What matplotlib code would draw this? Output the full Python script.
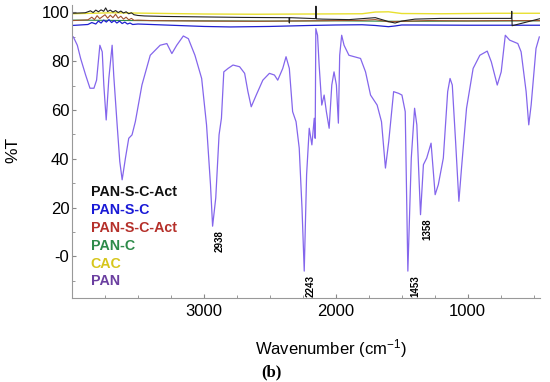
import numpy as np
import matplotlib
matplotlib.use("Agg")
import matplotlib.pyplot as plt

plt.rcParams['font.family'] = ['Liberation Sans', 'DejaVu Sans']
plt.rcParams['mathtext.default'] = 'regular'

# PAN spectrum (purple)
pan_x = [3990, 3960, 3935, 3897, 3864, 3834, 3814, 3789, 3771, 3759, 3741, 3721, 3696, 3684, 3658,
         3638, 3620, 3595, 3570, 3545, 3520, 3470, 3407, 3332, 3281, 3243, 3206, 3156, 3118, 3068,
         3017, 2980, 2950, 2934, 2910, 2885, 2867, 2849, 2817, 2779, 2729, 2691, 2666, 2641, 2603,
         2553, 2503, 2465, 2440, 2402, 2377, 2352, 2327, 2301, 2277, 2256, 2239, 2221, 2201, 2181,
         2163, 2156, 2151, 2138, 2126, 2106, 2088, 2071, 2050, 2030, 2013, 1995, 1980, 1970, 1955,
         1937, 1900, 1812, 1774, 1736, 1686, 1653, 1623, 1598, 1561, 1523, 1498, 1473, 1453, 1427,
         1402, 1385, 1357, 1335, 1310, 1277, 1246, 1222, 1184, 1151, 1133, 1116, 1091, 1066, 1046,
         1008, 958, 907, 851, 820, 775, 745, 714, 681, 619, 594, 556, 536, 518, 481, 456]
pan_y = [89.9, 86.5, 81.1, 74.3, 68.9, 68.9, 72.2, 86.5, 83.8, 70.2, 55.9, 72.9, 86.5, 74.3, 53.9,
         38.9, 31.4, 40.3, 48.4, 49.8, 55.2, 70.2, 82.4, 86.5, 87.2, 83.1, 86.5, 90.3, 89.2, 82.4,
         72.9, 53.9, 29.4, 12.4, 24.0, 49.8, 56.6, 75.6, 77.0, 78.4, 77.7, 75.0, 67.5, 61.3, 66.1,
         72.2, 75.0, 74.3, 72.2, 77.0, 81.8, 77.0, 59.3, 55.2, 44.4, 19.9, -6.0, 33.5, 52.5, 45.7,
         56.6, 48.4, 93.3, 90.6, 78.4, 62.0, 66.1, 59.3, 52.5, 70.2, 75.6, 70.2, 54.6, 82.4, 90.6,
         86.5, 82.4, 81.1, 75.6, 66.1, 62.0, 55.2, 36.2, 47.1, 67.5, 66.8, 66.1, 59.3, -6.0, 40.3,
         60.7, 53.9, 17.1, 37.6, 40.3, 46.4, 25.3, 29.4, 40.3, 67.5, 72.9, 70.2, 47.1, 22.6, 36.2,
         60.7, 77.0, 82.4, 84.1, 79.7, 70.2, 75.6, 90.6, 88.6, 87.2, 83.8, 67.5, 53.9, 62.0, 85.2, 89.9]

# CAC (yellow)
cac_x = [4000, 3700, 3400, 3000, 2600, 2200, 1800, 1700, 1600, 1500, 1200, 800, 450]
cac_y = [99.4, 99.8, 99.6, 99.3, 99.2, 99.3, 99.4, 100.1, 100.2, 99.5, 99.4, 99.6, 99.6]

# PAN-C (green)
pc_x = [4000, 3500, 3000, 2500, 2000, 1500, 1000, 450]
pc_y = [96.8, 96.6, 96.5, 96.4, 96.5, 96.3, 96.4, 96.5]

# PAN-S-C-Act (red)
red_x = [4000, 3880, 3850, 3830, 3810, 3790, 3770, 3750, 3730, 3710, 3690, 3670, 3650, 3630, 3610,
         3590, 3570, 3550, 3530, 3500, 3400, 3000, 2600, 2200, 1800, 1700, 1600, 1500, 1300, 1000,
         700, 450]
red_y = [96.6, 96.9, 98.0, 97.0, 98.6, 97.4, 98.2, 99.0, 97.6, 98.8, 97.8, 99.2, 97.6, 98.4, 97.2,
         98.0, 96.9, 97.5, 96.7, 96.8, 96.6, 96.4, 96.3, 96.5, 96.7, 97.0, 96.1, 96.3, 96.6, 96.5,
         96.6, 96.6]

# PAN-S-C (blue)
blue_x = [4000, 3880, 3850, 3820, 3800, 3780, 3760, 3740, 3720, 3700, 3680, 3660, 3640, 3620, 3600,
          3580, 3560, 3540, 3500, 3400, 3200, 3000, 2800, 2500, 2200, 2000, 1800, 1700, 1600, 1550,
          1500, 1400, 1000, 700, 450]
blue_y = [94.6, 95.0, 95.8, 95.2, 96.4, 95.6, 96.8, 96.0, 97.0, 95.8, 96.6, 95.6, 96.4, 95.4, 96.0,
          95.2, 95.6, 95.0, 95.2, 95.0, 94.6, 94.2, 94.0, 94.2, 94.6, 94.8, 94.9, 94.6, 94.1, 94.4,
          94.8, 94.8, 94.7, 94.7, 94.7]

# PAN-S-C-Act (black)
act_x = [4000, 3900, 3860, 3840, 3820, 3800, 3780, 3760, 3745, 3730, 3710, 3690, 3670, 3650, 3630,
         3610, 3590, 3570, 3550, 3530, 3500, 3450, 3300, 3000, 2700, 2400, 2355, 2352, 2349, 2200,
         2153, 2150, 2147, 2100, 1900, 1750, 1700, 1600, 1550, 1500, 1400, 1200, 900, 668, 665,
         662, 450]
act_y = [99.6, 99.8, 100.6, 99.9, 100.9, 100.2, 101.0, 100.4, 101.8, 100.3, 100.9, 100.1, 100.7, 99.9, 100.5,
         99.7, 100.2, 99.4, 99.8, 99.0, 98.7, 98.5, 98.3, 98.1, 97.9, 97.8, 97.8, 95.6, 97.8, 97.5,
         97.4, 102.5, 97.3, 97.2, 97.0, 97.6, 97.8, 96.2, 95.6, 96.4, 97.2, 97.5, 97.5, 97.5, 100.4,
         94.5, 97.4]

peak_pos = [2938, 2243, 1453, 1358]
peak_min = [12.4, -6.0, -6.0, 17.1]

legend_names = ['PAN-S-C-Act', 'PAN-S-C', 'PAN-S-C-Act', 'PAN-C', 'CAC', 'PAN']
legend_cols = ['#111111', '#1a1ad6', '#b5302a', '#2e8b4a', '#d6c61c', '#6b3fa0']

fig = plt.figure(figsize=(5.5, 3.82), dpi=100)
ax = fig.add_axes([0.131, 0.22, 0.851, 0.767])

ax.plot(cac_x, cac_y, color='#e8e030', lw=1.0)
ax.plot(pc_x, pc_y, color='#2e8b4a', lw=0.8)
ax.plot(red_x, red_y, color='#a0522d', lw=0.8)
ax.plot(blue_x, blue_y, color='#2020d0', lw=0.9)
ax.plot(act_x, act_y, color='#222222', lw=0.8)
ax.plot(pan_x, pan_y, color='#8466ec', lw=0.9)

for p, m in zip(peak_pos, peak_min):
    ax.text(p - 55, m - 1.5, str(p), rotation=90, ha='center', va='top',
            fontsize=7, fontweight='bold')

for i, (name, c) in enumerate(zip(legend_names, legend_cols)):
    ax.text(3860, 26.5 - i * 7.35, name, color=c, fontsize=10.3, fontweight='bold',
            va='center', ha='left')

ax.set_xlim(4000, 450)
ax.set_ylim(-17, 103)
ax.set_xticks([3000, 2000, 1000])
ax.set_xticks(np.arange(3750, 450, -250), minor=True)
ax.set_yticks([0, 20, 40, 60, 80, 100])
ax.set_yticklabels(['-0', '20', '40', '60', '80', '100'])
ax.set_yticks(np.arange(-10, 101, 10), minor=True)
ax.tick_params(axis='both', which='major', labelsize=12, direction='in', length=3,
               color='#888888', width=0.8)
ax.tick_params(axis='both', which='minor', direction='in', length=2, color='#888888', width=0.6)
ax.tick_params(axis='y', pad=2)
ax.tick_params(axis='x', pad=4)
for s in ['top', 'right']:
    ax.spines[s].set_visible(False)
for s in ['left', 'bottom']:
    ax.spines[s].set_color('#999999')
    ax.spines[s].set_linewidth(0.8)

fig.text(13 / 550, 1 - 150 / 382, '%T', rotation=90, ha='center', va='center', fontsize=12.5)
fig.text(331 / 550, 1 - 349 / 382, 'Wavenumber (cm$^{-1}$)', ha='center', va='center', fontsize=12)
fig.text(271 / 550, 1 - 372 / 382, '(b)', ha='center', va='center', fontsize=12,
         fontweight='bold', family='Liberation Serif')

fig.savefig('out.png', dpi=100)
